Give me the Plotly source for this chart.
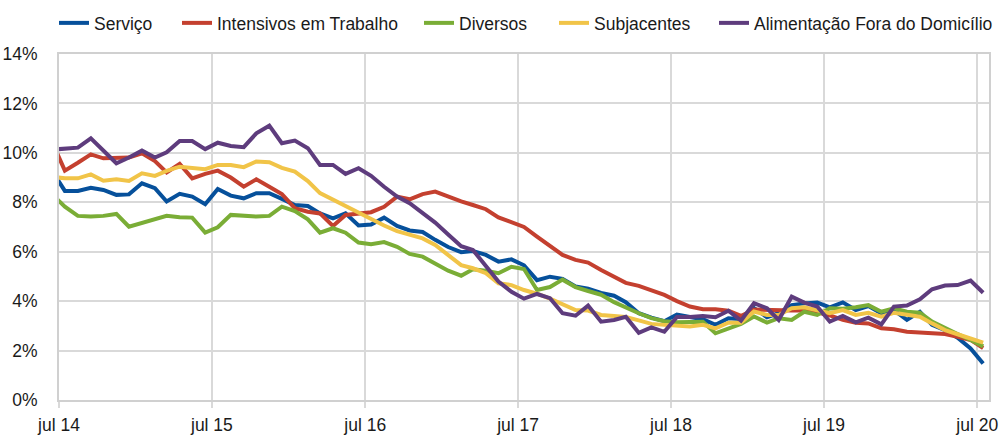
import pandas as pd
import plotly.graph_objects as go

# Monthly observations (jun 14 .. jul 20); jun 14 lies just left of the visible range
months = pd.date_range("2014-06-01", periods=74, freq="MS") + pd.Timedelta(days=14)

tick_dates = ["2014-07-01", "2015-07-01", "2016-07-01", "2017-07-01",
              "2018-07-01", "2019-07-01", "2020-07-01"]
tick_labels = ["jul 14", "jul 15", "jul 16", "jul 17", "jul 18", "jul 19", "jul 20"]

servico = [9.26, 8.46, 8.46, 8.59, 8.50, 8.30, 8.32, 8.77, 8.57, 8.03, 8.34, 8.23, 7.92,
           8.54, 8.27, 8.16, 8.37, 8.37, 8.14, 7.89, 7.85, 7.55, 7.35, 7.55, 7.06,
           7.10, 7.38, 7.04, 6.86, 6.80, 6.48, 6.19, 5.98, 6.03, 5.87, 5.60, 5.69,
           5.45, 4.85, 4.99, 4.90, 4.59, 4.50, 4.33, 4.22, 3.96, 3.51, 3.33, 3.19,
           3.46, 3.36, 3.27, 3.04, 3.31, 3.27, 3.72, 3.35, 3.51, 3.84, 3.91, 3.94,
           3.75, 3.95, 3.64, 3.80, 3.51, 3.64, 3.24, 3.57, 3.04, 2.83, 2.52, 2.09, 1.48]

intensivos = [10.42, 9.28, 9.60, 9.94, 9.78, 9.81, 9.81, 9.98, 9.67, 9.21, 9.55, 8.97, 9.15,
              9.28, 9.00, 8.63, 8.93, 8.63, 8.33, 7.76, 7.62, 7.55, 7.04, 7.49, 7.55,
              7.60, 7.82, 8.23, 8.12, 8.33, 8.43, 8.22, 8.04, 7.89, 7.72, 7.39, 7.18,
              7.00, 6.61, 6.23, 5.87, 5.67, 5.56, 5.26, 4.99, 4.74, 4.62, 4.42, 4.25,
              4.00, 3.78, 3.67, 3.67, 3.61, 3.40, 3.66, 3.64, 3.60, 3.62, 3.62, 3.55,
              3.42, 3.24, 3.13, 3.10, 2.90, 2.86, 2.76, 2.74, 2.72, 2.67, 2.56, 2.43, 2.10]

diversos = [8.32, 7.82, 7.45, 7.42, 7.45, 7.53, 7.01, 7.15, 7.32, 7.45, 7.39, 7.38, 6.77,
            6.99, 7.49, 7.45, 7.42, 7.45, 7.82, 7.64, 7.31, 6.77, 6.95, 6.77, 6.37,
            6.30, 6.39, 6.20, 5.91, 5.80, 5.53, 5.23, 5.03, 5.29, 5.23, 5.13, 5.39,
            5.30, 4.45, 4.57, 4.87, 4.57, 4.41, 4.26, 3.96, 3.74, 3.51, 3.31, 3.19,
            3.15, 3.15, 3.17, 2.70, 2.90, 3.08, 3.38, 3.13, 3.31, 3.24, 3.57, 3.44,
            3.71, 3.69, 3.75, 3.84, 3.57, 3.71, 3.57, 3.53, 3.17, 2.90, 2.67, 2.43, 2.17]

subjacentes = [9.03, 8.97, 8.97, 9.13, 8.87, 8.93, 8.86, 9.17, 9.07, 9.27, 9.44, 9.38, 9.34,
               9.51, 9.51, 9.42, 9.65, 9.62, 9.39, 9.24, 8.86, 8.37, 8.10, 7.83, 7.56,
               7.31, 7.06, 6.83, 6.67, 6.54, 6.27, 5.84, 5.46, 5.33, 5.13, 4.72, 4.65,
               4.45, 4.30, 4.10, 3.86, 3.64, 3.62, 3.44, 3.40, 3.36, 3.22, 3.08, 3.04,
               3.00, 2.97, 3.04, 2.90, 3.13, 3.13, 3.58, 3.44, 3.44, 3.71, 3.75, 3.64,
               3.51, 3.64, 3.44, 3.53, 3.37, 3.53, 3.44, 3.37, 3.10, 2.83, 2.66, 2.50, 2.32]

alimentacao = [10.13, 10.17, 10.21, 10.59, 10.10, 9.58, 9.81, 10.09, 9.81, 10.02, 10.48, 10.48, 10.15,
               10.41, 10.28, 10.23, 10.79, 11.10, 10.39, 10.50, 10.19, 9.51, 9.51, 9.15, 9.38,
               9.07, 8.63, 8.23, 7.96, 7.55, 7.18, 6.70, 6.22, 6.07, 5.39, 4.79, 4.38,
               4.10, 4.29, 4.12, 3.51, 3.41, 3.82, 3.17, 3.24, 3.37, 2.72, 2.94, 2.76,
               3.36, 3.36, 3.40, 3.35, 3.61, 3.21, 3.92, 3.71, 3.24, 4.18, 3.94, 3.78,
               3.17, 3.40, 3.14, 3.33, 3.06, 3.78, 3.82, 4.07, 4.48, 4.63, 4.65, 4.83, 4.34]

series = [
    ("Serviço", servico, "#06509B"),
    ("Intensivos em Trabalho", intensivos, "#C4402F"),
    ("Diversos", diversos, "#7AAD36"),
    ("Subjacentes", subjacentes, "#F1C448"),
    ("Alimentação Fora do Domicílio", alimentacao, "#5E3C7D"),
]

# left edge (px) of each legend entry's text in the 1006 px wide figure
legend_text_px = [95, 218, 460, 595, 755]

FONT = "Liberation Sans, Arial, sans-serif"
FSIZE = 17.5
W, H = 1006, 436

fig = go.Figure()
legend_ids = ["legend", "legend2", "legend3", "legend4", "legend5"]
for (name, vals, color), lid in zip(series, legend_ids):
    fig.add_trace(go.Scatter(
        x=months, y=vals, name=name, mode="lines",
        line=dict(color=color, width=4),
        legend=lid,
    ))

layout_legends = {}
for lid, tx in zip(legend_ids, legend_text_px):
    layout_legends[lid] = dict(
        orientation="h", xref="container", yref="container",
        x=(tx - 41) / W, xanchor="left", y=1 - 23 / H, yanchor="middle",
        font=dict(family=FONT, size=FSIZE, color="#1a1a1a"),
        bgcolor="rgba(0,0,0,0)", borderwidth=0,
    )

fig.update_layout(
    width=W, height=H,
    margin=dict(l=59, r=17, t=54, b=36, autoexpand=False),
    paper_bgcolor="white", plot_bgcolor="white",
    font=dict(family=FONT, size=FSIZE, color="#1a1a1a"),
    showlegend=True,
    **layout_legends,
)

fig.update_xaxes(
    type="date",
    range=["2014-07-01", "2020-07-29"],
    tickvals=tick_dates, ticktext=tick_labels,
    showgrid=True, gridcolor="#D9D9D9", gridwidth=2,
    showline=True, linecolor="#D0D0D0", linewidth=2, mirror=True,
    ticks="outside", ticklen=6, tickcolor="#D9D9D9", tickwidth=2,
    zeroline=False, tickangle=0, ticklabelstandoff=2,
)
fig.update_yaxes(
    range=[0, 14], dtick=2, tick0=0, ticksuffix="%",
    showgrid=True, gridcolor="#D9D9D9", gridwidth=2,
    showline=True, linecolor="#D0D0D0", linewidth=2, mirror=True,
    ticks="", zeroline=False, ticklabelstandoff=16,
)

fig.write_html("out.html", config={"displayModeBar": False},
               post_script="document.body.style.margin='0';")
